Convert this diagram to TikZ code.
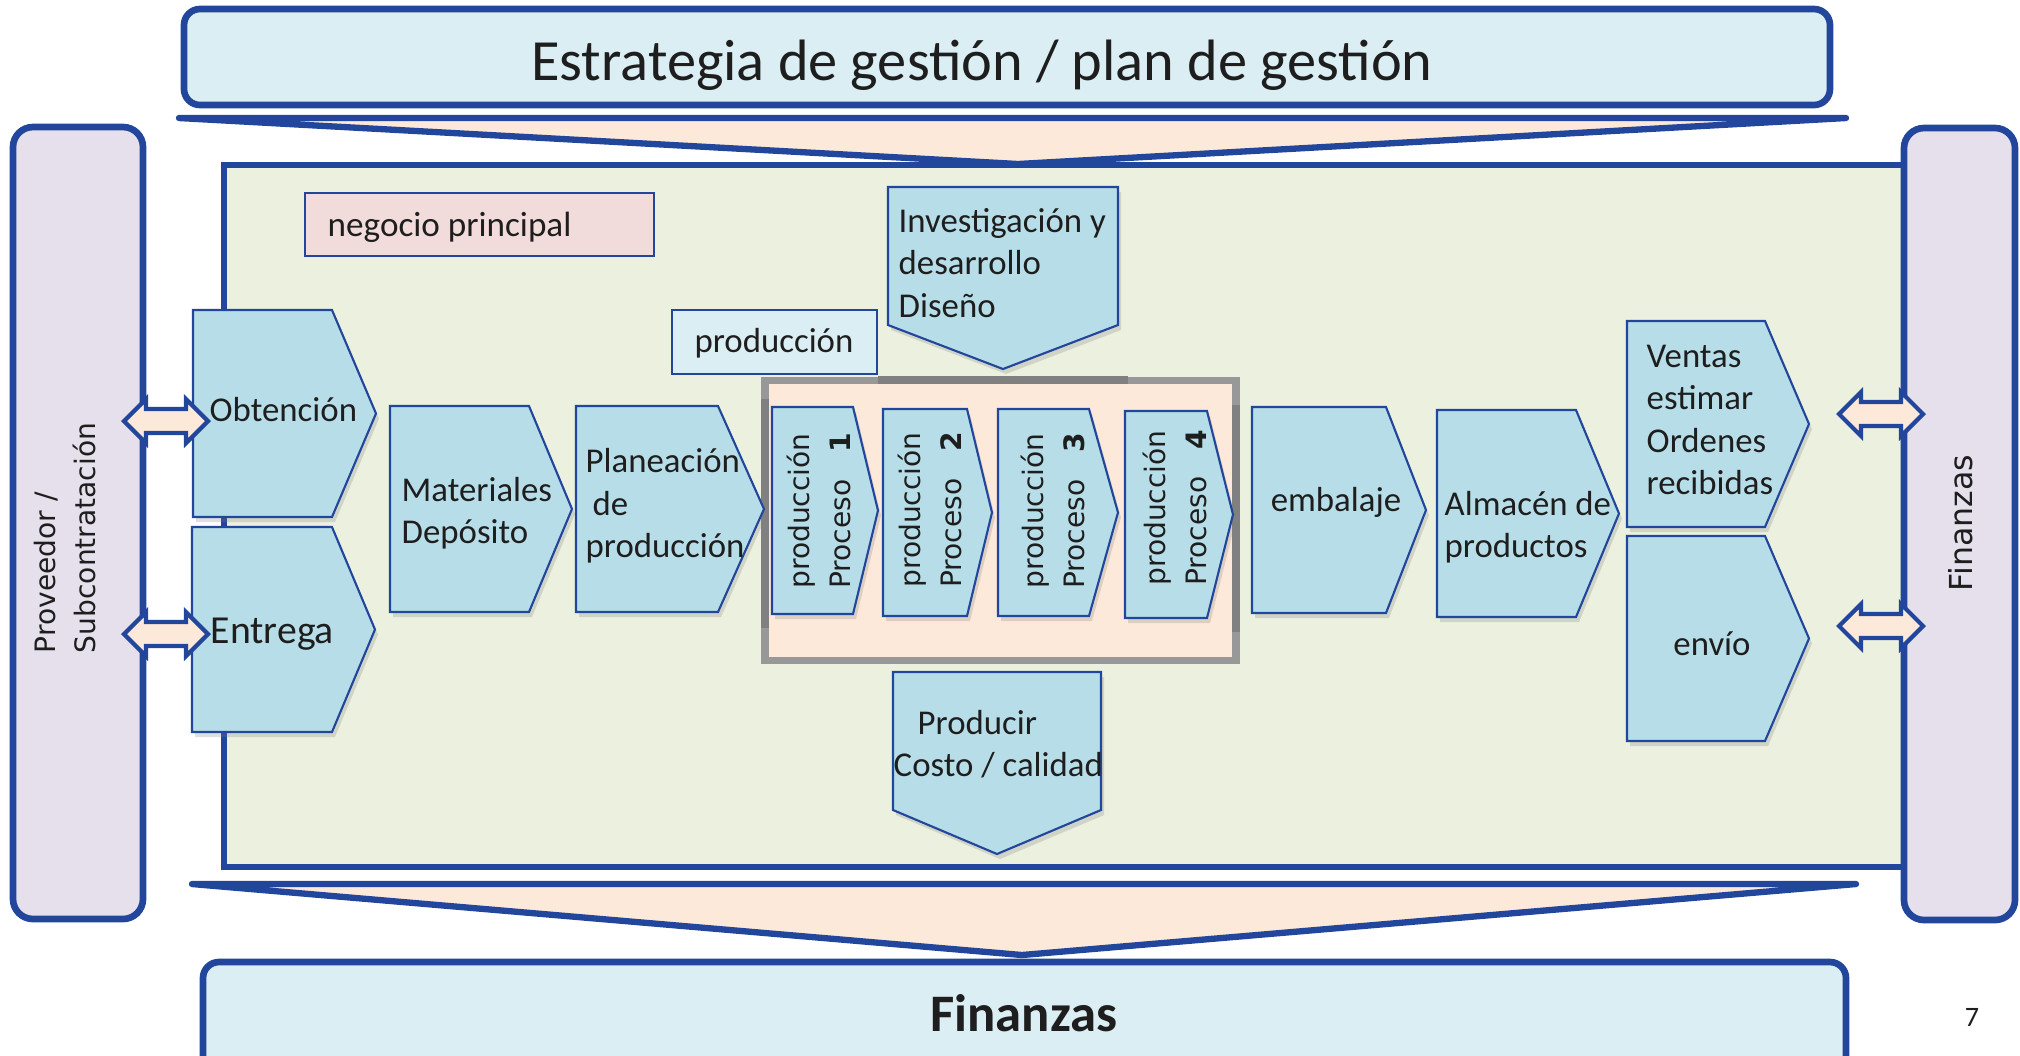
\documentclass[tikz,border=0pt]{standalone}
\usepackage{fontspec}
\setmainfont{Carlito}
\newfontfamily\widefont{DejaVu Sans}
\usetikzlibrary{shadows}

\definecolor{edgeblue}{HTML}{22469B}
\definecolor{paleblue}{HTML}{DAEEF3}
\definecolor{chevblue}{HTML}{B7DEE8}
\definecolor{coregreen}{HTML}{EBF1DE}
\definecolor{peach}{HTML}{FDE9D9}
\definecolor{lavender}{HTML}{E5E0EC}
\definecolor{rosy}{HTML}{F2DCDB}
\definecolor{framegray}{HTML}{989898}
\definecolor{shadegray}{HTML}{808080}
\definecolor{ink}{HTML}{1E1E1E}

\tikzset{
  bigbox/.style={draw=edgeblue, line width=1.9pt, rounded corners=0.16cm},
  funnel/.style={draw=edgeblue, line width=1.8pt, fill=peach, line join=round, line cap=round},
  chev/.style={draw=edgeblue, line width=0.6pt, fill=chevblue,
    drop shadow={opacity=0.25, shadow xshift=0.03cm, shadow yshift=-0.05cm}},
  tag/.style={draw=edgeblue, line width=0.6pt},
  lbl/.style={text=ink, inner sep=0pt, font=\fontsize{9.9}{12.1}\selectfont},
  rot/.style={text=ink, inner sep=0pt, rotate=90, align=left,
    font=\widefont\fontsize{8}{11.4}\selectfont},
  dbl/.style={draw=edgeblue, line width=1.2pt, fill=peach},
}

% chevron to the right: left, top, body width, height, tip length
\newcommand{\chevron}[5]{%
  \draw[chev] (#1,#2) -- ++(#3,0) -- ++(#5,#4/2) -- ++(-#5,#4/2) -- ++(-#3,0) -- cycle;}
% pentagon pointing down: left, top, width, side height, tip depth
\newcommand{\downpent}[5]{%
  \draw[chev] (#1,#2) -- ++(#3,0) -- ++(0,#4) -- ++(-#3/2,#5) -- ++(-#3/2,-#5) -- cycle;}
% block double arrow: left tip, right tip, height
\newcommand{\dblarrow}[3]{%
  \draw[dbl] (#1,#3) -- ++(0.22,-0.22) -- ++(0,0.10) -- ({#2-0.22},{#3-0.12})
    -- ++(0,-0.10) -- (#2,#3) -- ++(-0.22,0.22) -- ++(0,-0.10)
    -- ({#1+0.22},{#3+0.12}) -- ++(0,0.10) -- cycle;}
% rotated process label
\newcommand{\proclabel}[1]{\begin{tabular}{@{}l@{}}producción\\Proceso\hfill\textbf{#1}\end{tabular}}

\begin{document}
\begin{tikzpicture}[x=1cm,y=-1cm]
\useasboundingbox (0,0) rectangle (20.2,10.55);

% strategy on top
\draw[bigbox, fill=paleblue] (1.84,0.09) rectangle (18.30,1.05);
\node[lbl, font=\fontsize{16.6}{20}\selectfont] (strategy) at (9.82,0.65)
  {Estrategia de gestión / plan de gestión};
\draw[funnel] (1.79,1.18) -- (18.46,1.18) -- (10.18,1.64) -- cycle;

% core business area
\draw[draw=edgeblue, line width=1.8pt, fill=coregreen] (2.24,1.65) rectangle (19.04,8.67);

% side bars
\draw[bigbox, fill=lavender, rounded corners=0.2cm] (0.13,1.27) rectangle (1.43,9.19);
\node[rot] (supplier) at (0.65,5.38) {Proveedor /\\Subcontratación};
\draw[bigbox, fill=lavender, rounded corners=0.2cm] (19.04,1.28) rectangle (20.15,9.20);
\node[rot, font=\widefont\fontsize{9}{11}\selectfont] (finside) at (19.61,5.23) {Finanzas};

% finance at the bottom
\draw[funnel] (1.92,8.84) -- (18.56,8.84) -- (10.22,9.55) -- cycle;
\draw[bigbox, fill=paleblue] (2.03,9.62) rectangle (18.46,10.80);
\node[lbl, font=\fontsize{15}{18}\selectfont\bfseries] (finbottom) at (10.24,10.13) {Finanzas};
\node[lbl, font=\fontsize{8}{10}\selectfont] (pagenum) at (19.72,10.17) {7};

% tags
\draw[tag, fill=rosy] (3.05,1.93) rectangle (6.54,2.56);
\node[lbl, font=\fontsize{10}{12}\selectfont, anchor=west] (core) at (3.27,2.27) {negocio principal};
\draw[tag, fill=paleblue] (6.72,3.10) rectangle (8.77,3.74);
\node[lbl] (prodtag) at (7.74,3.43) {producción};

% production frame
\draw[framegray, line width=2pt, fill=peach] (7.65,3.80) rectangle (12.36,6.60);
\draw[shadegray, line width=2.4pt] (8.78,3.80) -- (11.28,3.80);
\draw[shadegray, line width=2.4pt] (7.65,3.99) -- (7.65,6.28);
\draw[shadegray, line width=2.4pt] (12.36,4.05) -- (12.36,6.32);

% chevrons
\chevron{1.93}{3.10}{1.39}{2.07}{0.44}
\node[lbl, anchor=west] (obtain) at (2.09,4.10) {Obtención};
\chevron{1.92}{5.27}{1.40}{2.05}{0.43}
\node[lbl, anchor=west, font=\fontsize{11.3}{13}\selectfont] (deliver) at (2.10,6.34) {Entrega};
\chevron{3.90}{4.06}{1.39}{2.06}{0.43}
\node[lbl, anchor=west, align=left] (material) at (4.01,5.13) {Materiales\\Depósito};
\chevron{5.76}{4.06}{1.42}{2.06}{0.46}
\node[lbl, anchor=west, align=left] (planning) at (5.85,5.06) {Planeación\\\hspace*{0.07cm}de\\producción};

\chevron{7.72}{4.07}{0.81}{2.07}{0.25}
\node[rot] (proc1) at (8.22,5.11) {\proclabel{1}};
\chevron{8.83}{4.09}{0.84}{2.07}{0.25}
\node[rot] (proc2) at (9.33,5.10) {\proclabel{2}};
\chevron{9.98}{4.09}{0.91}{2.07}{0.29}
\node[rot] (proc3) at (10.56,5.11) {\proclabel{3}};
\chevron{11.25}{4.11}{0.82}{2.07}{0.26}
\node[rot] (proc4) at (11.78,5.08) {\proclabel{4}};

\chevron{12.52}{4.07}{1.34}{2.06}{0.40}
\node[lbl] (packing) at (13.36,5.02) {embalaje};
\chevron{14.37}{4.10}{1.39}{2.07}{0.43}
\node[lbl, anchor=west, align=left] (store) at (14.44,5.27) {Almacén de\\productos};
\chevron{16.27}{3.21}{1.38}{2.06}{0.44}
\node[lbl, anchor=west, align=left] (sales) at (16.46,4.20) {Ventas\\estimar\\Ordenes\\recibidas};
\chevron{16.27}{5.36}{1.38}{2.05}{0.44}
\node[lbl] (shipping) at (17.12,6.44) {envío};

% design and making
\downpent{8.88}{1.87}{2.30}{1.38}{0.44}
\node[lbl, anchor=west, align=left] (design) at (8.98,2.63) {Investigación y\\desarrollo\\Diseño};
\downpent{8.93}{6.72}{2.08}{1.38}{0.44}
\node[lbl, anchor=west, align=left] (making) at (8.93,7.44) {\hspace*{0.24cm}Producir\\Costo / calidad};

% links to the side bars
\dblarrow{1.24}{2.08}{4.21}
\dblarrow{1.24}{2.08}{6.34}
\dblarrow{18.39}{19.23}{4.14}
\dblarrow{18.39}{19.23}{6.26}
\end{tikzpicture}
\end{document}
